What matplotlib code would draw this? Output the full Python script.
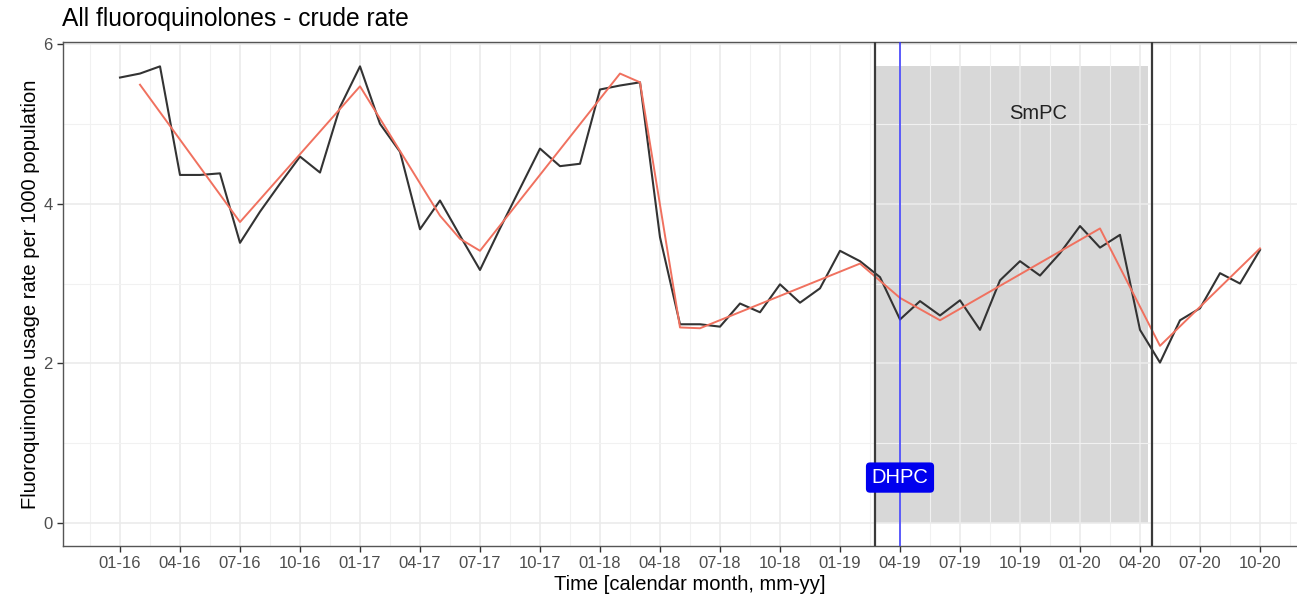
import numpy as np
import matplotlib.pyplot as plt
from matplotlib.ticker import MultipleLocator, FixedLocator

plt.rcParams['font.family'] = ['Liberation Sans', 'DejaVu Sans']

# monthly crude rate, Jan 2016 .. Oct 2020
rate = [5.58, 5.63, 5.72, 4.36, 4.36, 4.38, 3.51, 3.90, 4.25, 4.59,
        4.39, 5.21, 5.72, 5.00, 4.65, 3.68, 4.04, 3.60, 3.17, 3.69,
        4.19, 4.69, 4.47, 4.50, 5.43, 5.48, 5.52, 3.58, 2.49, 2.49,
        2.46, 2.75, 2.64, 2.99, 2.76, 2.94, 3.41, 3.28, 3.08, 2.55,
        2.78, 2.60, 2.79, 2.42, 3.04, 3.28, 3.10, 3.38, 3.72, 3.45,
        3.61, 2.42, 2.01, 2.54, 2.69, 3.13, 3.00, 3.42]

# fitted trend (red), read at its bends
fit_month = [1, 6, 12, 16, 17, 18, 25, 26, 28, 29, 37, 39, 41, 49, 52, 57]
fit_rate = [5.49, 3.77, 5.47, 3.85, 3.56, 3.41, 5.63, 5.52, 2.45, 2.44,
            3.25, 2.82, 2.54, 3.69, 2.22, 3.44]

tick_labels = ['01-16', '04-16', '07-16', '10-16', '01-17', '04-17', '07-17',
               '10-17', '01-18', '04-18', '07-18', '10-18', '01-19', '04-19',
               '07-19', '10-19', '01-20', '04-20', '07-20', '10-20']

smpc_start = 37.75
smpc_end = 51.58
smpc_shade_end = 51.4
dhpc_month = 39

W, H = 1297, 598
fig = plt.figure(figsize=(W / 100, H / 100), dpi=100)
ax = fig.add_axes([63 / W, 1 - 546 / H, 1254 / W, 503.6 / H])

month = np.arange(len(rate))

ax.set_xlim(-2.85, 59.85)
ax.set_ylim(-0.287, 6.02)

ax.xaxis.set_major_locator(FixedLocator(range(0, len(rate), 3)))
ax.set_xticklabels(tick_labels)
ax.xaxis.set_minor_locator(MultipleLocator(1.5))
ax.yaxis.set_major_locator(MultipleLocator(2))
ax.yaxis.set_minor_locator(MultipleLocator(1))

ax.set_axisbelow(True)
ax.grid(which='major', color='#ebebeb', lw=1.2)
ax.grid(which='minor', color='#f1f1f1', lw=0.8)

# shaded SmPC period
ax.fill_between([smpc_start, smpc_shade_end], 0, max(rate),
                color='#7f7f7f', alpha=0.3, lw=0, zorder=0.3)

ax.plot(month, rate, color='#333333', lw=1.5, zorder=3)
ax.plot(fit_month, fit_rate, color='#F0715F', lw=1.4, zorder=3.5)

ax.axvline(smpc_start, color='#3a3a3a', lw=1.6, zorder=4)
ax.axvline(smpc_end, color='#3a3a3a', lw=1.6, zorder=4)
ax.axvline(dhpc_month, color='#3333ff', lw=1.1, zorder=4)

ax.text(45.9, 5.13, 'SmPC', fontsize=14.5, ha='center', va='center',
        color='#222222', zorder=5)
ax.text(dhpc_month, 0.57, 'DHPC', fontsize=14.5, ha='center', va='center',
        color='white', zorder=6,
        bbox=dict(boxstyle='round,pad=0.28,rounding_size=0.2',
                  fc='#0000ee', ec='none'))

ax.tick_params(axis='both', which='major', length=4, width=1,
               color='#333333', labelsize=12, labelcolor='#4d4d4d', pad=3.5)
ax.tick_params(which='minor', length=0)
for s in ax.spines.values():
    s.set_color('#555555')
    s.set_linewidth(1.0)

ax.set_xlabel('Time [calendar month, mm-yy]', fontsize=14.5)
ax.xaxis.set_label_coords(0.5, -0.057)
ax.set_ylabel('Fluoroquinolone usage rate per 1000 population', fontsize=14.5)
ax.yaxis.set_label_coords(-0.018, 0.5)

fig.text(62 / W, 1 - 26 / H, 'All fluoroquinolones - crude rate',
         fontsize=17.7, ha='left', va='baseline')

fig.savefig('out.png', dpi=100)
